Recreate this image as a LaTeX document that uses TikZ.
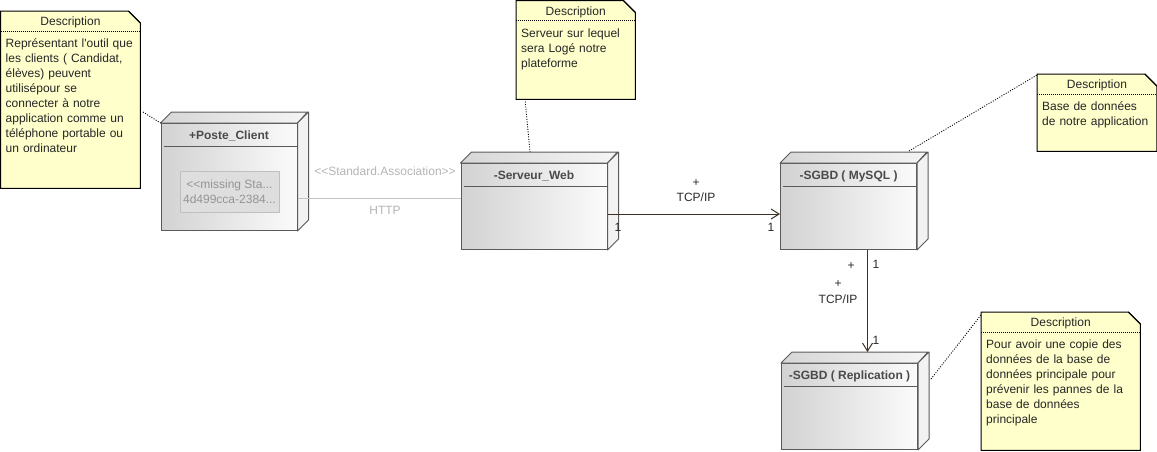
\documentclass[tikz,border=0pt]{standalone}
\usepackage{fontspec}
\setmainfont{Liberation Sans}
\usetikzlibrary{arrows.meta,calc}
\definecolor{notefill}{HTML}{FFFFCC}
\definecolor{devedge}{HTML}{5A5A5A}
\definecolor{devleft}{HTML}{D2D2D2}
\definecolor{devright}{HTML}{FBFBFB}
\definecolor{devtitle}{HTML}{4A4A4A}
\definecolor{conncol}{HTML}{3C3325}
\definecolor{assoccol}{HTML}{C4C4C4}
\definecolor{stereocol}{HTML}{B4B4B4}
\definecolor{labcol}{HTML}{2A2A2A}
\newcommand{\devbox}[6]{%
  \node[devface, minimum width=#4pt, minimum height=#5pt] (#1) at (#2,#3) {};
  \draw[devline, left color=black!16, right color=black!4] (#1.north west) -- ++(11,-11) -- ++(#4,0) -- (#1.north east) -- cycle;
  \draw[devline, fill=black!5] (#1.north east) -- ++(11,-11) -- ($(#1.south east)+(11,-11)$) -- (#1.south east) -- cycle;
  \draw[devline] ($(#1.north west)+(3,23)$) -- ($(#1.north east)+(-1,23)$);
  \node[devtitlestyle] (#1-t) at ($(#1.north)+(0,16.5)$) {#6};
}
\newcommand{\notebox}[6]{%
  \node[notebody, minimum width=#4pt, minimum height=#5pt] (#1) at (#2,#3) {};
  \draw[noteline] (#1.north west) -- ($(#1.north east)+(-12,0)$) -- ($(#1.north east)+(0,12)$) -- (#1.south east) -- (#1.south west) -- cycle;
  \draw[noteline] ($(#1.north east)+(-12,0)$) -- ($(#1.north east)+(0,12)$);
  \node[notehead] (#1-h) at ($(#1.north)+(0,14.5)$) {Description};
  \draw[notesep] ($(#1.north west)+(0,20)$) -- ($(#1.north east)+(0,20)$);
  \node[notetext] (#1-x) at ($(#1.north west)+(5,36.5)$) {#6};
}
\begin{document}
\begin{tikzpicture}[x=1pt,y=-1pt,
  devface/.style={draw=devedge, line width=1pt, left color=devleft, right color=devright, anchor=north west, inner sep=0pt},
  devline/.style={draw=devedge, line width=1pt, line join=round},
  devtitlestyle/.style={anchor=base, inner sep=0pt, text=devtitle, font=\fontsize{12}{15}\selectfont\bfseries},
  notebody/.style={anchor=north west, inner sep=0pt, draw=none},
  noteline/.style={draw=black, line width=1pt, fill=notefill, line join=miter},
  notehead/.style={anchor=base, inner sep=0pt, font=\fontsize{12}{15}\selectfont, text=black!85},
  notesep/.style={draw=black, line width=0.9pt, dash pattern=on 1pt off 1pt},
  notetext/.style={anchor=base west, inner sep=0pt, align=left, text width=200pt, font=\fontsize{12}{15}\selectfont, text=black!85},
  notelink/.style={draw=black, line width=0.9pt, dash pattern=on 1pt off 1.5pt},
  assoc/.style={draw=assoccol, line width=1pt},
  stereo/.style={inner sep=0pt, text=stereocol, font=\fontsize{12}{15}\selectfont},
  conn/.style={draw=conncol, line width=1pt},
  tip/.style={-{Straight Barb[length=8pt,width=10pt,line width=1pt]}},
  lab/.style={inner sep=0pt, text=labcol, font=\fontsize{12}{15}\selectfont},
  inbox/.style={draw=black!25, fill=black!13, line width=1pt, inner sep=0pt, minimum width=99pt, minimum height=41pt, align=center, text=black!42, font=\fontsize{12}{15}\selectfont}
]
\useasboundingbox (0,0) rectangle (1157,451);

% nodes
\devbox{pc}{160.5}{123}{136}{107}{+Poste\_Client}
\devbox{sw}{460.5}{163}{146}{86}{-Serveur\_Web}
\devbox{my}{780}{163}{136}{86}{-SGBD ( MySQL )}
\devbox{rep}{781}{363}{136}{86}{-SGBD ( Replication )}
\node[inbox] (miss) at (229.5,191.5) {<{}<missing Sta...\\4d499cca-2384...};

% notes
\notebox{n1}{0.5}{11}{139.5}{177}{Représentant l\textquotesingle outil que\\les clients ( Candidat,\\élèves) peuvent\\utilisépour se\\connecter à notre\\application comme un\\téléphone portable ou\\un ordinateur}
\notebox{n2}{516}{0.5}{119}{98.5}{Serveur sur lequel\\sera Logé notre\\plateforme}
\notebox{n3}{1037}{74}{119.5}{77}{Base de données\\de notre application}
\notebox{n4}{981}{312}{159}{138}{Pour avoir une copie des\\données de la base de\\données principale pour\\prévenir les pannes de la\\base de données\\principale}

% note links
\coordinate (l1) at (143,112);
\draw[notelink] (l1) -- (pc.north west);
\coordinate (l2a) at (525,99);
\coordinate (l2b) at (530,152);
\draw[notelink] (l2a) -- (l2b);
\coordinate (l3a) at (909,151);
\coordinate (l3b) at (1037,75);
\draw[notelink] (l3a) -- (l3b);
\coordinate (l4a) at (931,379);
\coordinate (l4b) at (981,315);
\draw[notelink] (l4a) -- (l4b);

% HTTP association
\coordinate (h) at (0,198);
\draw[assoc] (pc.east |- h) -- (sw.west |- h);
\node[stereo] (st) at (385,171) {<{}<Standard.Association>{}>};
\node[stereo] (http) at (385,210) {HTTP};

% TCP/IP web -> mysql
\coordinate (t) at (0,214);
\draw[conn, tip] (sw.east |- t) -- (my.west |- t);
\node[lab] (p1) at (696,183) {+};
\node[lab] (tcp1) at (696,197) {TCP/IP};
\node[lab] (m1) at (618,227) {1};
\node[lab] (m2) at (771,227) {1};

% TCP/IP mysql -> replication
\coordinate (v) at (867.5,0);
\draw[conn, tip] (my.south -| v) -- ($(rep.north -| v)+(0,-11)$);
\node[lab] (p2) at (851,266) {+};
\node[lab] (m3) at (876,264) {1};
\node[lab] (p3) at (838,284) {+};
\node[lab] (tcp2) at (838,299) {TCP/IP};
\node[lab] (m4) at (876,340) {1};
\end{tikzpicture}
\end{document}
